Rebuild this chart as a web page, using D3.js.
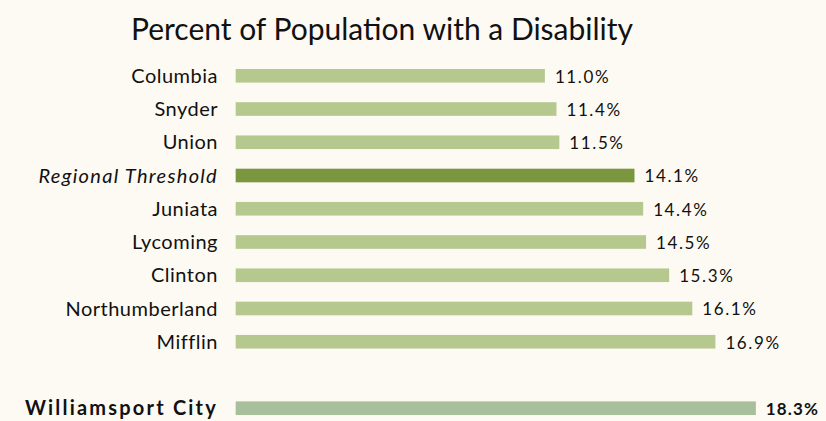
<!DOCTYPE html>
<html>
<head>
<meta charset="utf-8">
<script src="https://cdn.jsdelivr.net/npm/d3@7"></script>
<style>
  body { margin: 0; background: #fdfaf3; }
  svg { display: block; font-family: Lato, "Open Sans", sans-serif; }
</style>
</head>
<body>
<script>
const width = 826;
const height = 421;

// rows in drawing order; the empty name makes the gap before Williamsport
const names = ['Columbia', 'Snyder', 'Union', 'Regional Threshold', 'Juniata', 'Lycoming',
    'Clinton', 'Northumberland', 'Mifflin', '', 'Williamsport City'];
const values = [11.0, 11.4, 11.5, 14.1, 14.4, 14.5, 15.3, 16.1, 16.9, null, 18.3];
const kinds = ['county', 'county', 'county', 'threshold', 'county', 'county',
    'county', 'county', 'county', 'gap', 'city'];

const colors = {county: '#b5c98f', threshold: '#7a963f', city: '#a7bf9b'};

const rows = names.map((n, i) => ({name: n, value: values[i], kind: kinds[i], key: 'r' + i}));
const shown = rows.filter(d => d.kind !== 'gap');

const x = d3.scaleLinear().domain([0, 20]).range([227, 805]);
const y = d3.scaleBand()
    .domain(rows.map(d => d.key))
    .range([59, 425])
    .paddingInner(0.59)
    .paddingOuter(0.3);

const svg = d3.select('body').append('svg')
    .attr('width', width)
    .attr('height', height);

svg.append('text')
    .attr('x', 382)
    .attr('y', 40)
    .attr('text-anchor', 'middle')
    .attr('font-size', 30)
    .attr('fill', '#111')
    .text('Percent of Population with a Disability');

const barStart = x(0.3);

svg.selectAll('.bar')
    .data(shown)
    .join('rect')
    .attr('class', 'bar')
    .attr('x', barStart)
    .attr('y', d => y(d.key))
    .attr('width', d => x(d.value) - barStart)
    .attr('height', y.bandwidth())
    .attr('fill', d => colors[d.kind]);

// category labels
const labelSpacing = {county: '0.5px', threshold: '1.3px', city: '2.2px'};
svg.selectAll('.label')
    .data(shown)
    .join('text')
    .attr('class', 'label')
    .attr('x', 218)
    .attr('y', d => y(d.key) + y.bandwidth() / 2)
    .attr('dy', '0.36em')
    .attr('text-anchor', 'end')
    .attr('font-size', 20)
    .attr('fill', '#111')
    .attr('font-style', d => d.kind === 'threshold' ? 'italic' : null)
    .attr('font-weight', d => d.kind === 'city' ? 'bold' : null)
    .attr('letter-spacing', d => labelSpacing[d.kind])
    .text(d => d.name);

// value labels
svg.selectAll('.value')
    .data(shown)
    .join('text')
    .attr('class', 'value')
    .attr('x', d => x(d.value) + 10)
    .attr('y', d => y(d.key) + y.bandwidth() / 2)
    .attr('dy', '0.4em')
    .attr('font-size', 17)
    .attr('fill', '#111')
    .attr('font-weight', d => d.kind === 'city' ? 'bold' : null)
    .attr('letter-spacing', d => d.kind === 'city' ? '1.1px' : '1.6px')
    .text(d => d.value.toFixed(1) + '%');
</script>
</body>
</html>
